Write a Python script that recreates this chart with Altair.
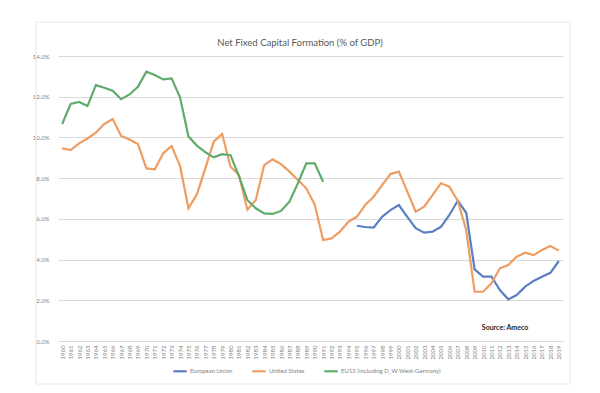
import altair as alt
import pandas as pd

years = list(range(1960, 2020))
us = [9.46, 9.38, 9.71, 9.95, 10.23, 10.66, 10.9, 10.07, 9.9, 9.68,
      8.48, 8.43, 9.22, 9.58, 8.6, 6.52, 7.2, 8.48, 9.79, 10.17,
      8.56, 8.15, 6.45, 6.93, 8.64, 8.92, 8.69, 8.32, 7.91, 7.5,
      6.7, 4.96, 5.04, 5.37, 5.86, 6.1, 6.68, 7.09, 7.66, 8.2,
      8.32, 7.34, 6.35, 6.6, 7.17, 7.75, 7.58, 6.88, 5.45, 2.42,
      2.42, 2.83, 3.57, 3.73, 4.14, 4.34, 4.22, 4.47, 4.67, 4.44]
eu15_years = list(range(1960, 1992))
eu15 = [10.66, 11.64, 11.74, 11.54, 12.57, 12.44, 12.29, 11.88, 12.11, 12.49,
        13.23, 13.07, 12.85, 12.9, 11.97, 10.05, 9.6, 9.28, 9.02, 9.18,
        9.13, 8.1, 6.93, 6.52, 6.27, 6.24, 6.39, 6.84, 7.75, 8.73,
        8.73, 7.82]
eu_years = list(range(1995, 2020))
eu = [5.66, 5.6, 5.57, 6.1, 6.43, 6.68, 6.1, 5.54, 5.32, 5.37,
      5.61, 6.19, 6.89, 6.3, 3.52, 3.16, 3.16, 2.5, 2.05, 2.26,
      2.67, 2.95, 3.16, 3.35, 3.93]

series_names = ["European Union", "United States", "EU15 (including D_W West-Germany)"]
series_colors = ["#5B7FC2", "#EE9D62", "#5FAB6A"]
y_ticks = [0, 2, 4, 6, 8, 10, 12, 14]
title_text = ["Net Fixed Capital Formation (% of GDP)"]
source_text = ["Source: Ameco"]

rows = []
for yr, v in zip(eu_years, eu):
    rows.append({"year": yr, "value": v, "series": series_names[0]})
for yr, v in zip(years, us):
    rows.append({"year": yr, "value": v, "series": series_names[1]})
for yr, v in zip(eu15_years, eu15):
    rows.append({"year": yr, "value": v, "series": series_names[2]})
df = pd.DataFrame(rows)

FONT = "Lato"
GREY = "#7f7f7f"

lines = alt.Chart(df).mark_line(strokeWidth=2.2).encode(
    x=alt.X("year:O",
            scale=alt.Scale(type="point", padding=0.5, domain=years),
            axis=alt.Axis(title=None, labelAngle=-90, labelFontSize=6, labelColor=GREY,
                          labelFont=FONT, ticks=False, domainColor="#d9d9d9",
                          grid=False, labelPadding=4, labelOverlap=False,
                          labelBaseline="middle", labelAlign="right")),
    y=alt.Y("value:Q",
            scale=alt.Scale(domain=[0, 14]),
            axis=alt.Axis(title=None, values=y_ticks,
                          labelExpr="format(datum.value, '.1f') + '%'",
                          grid=True, gridColor="#d9d9d9", domain=False, ticks=False,
                          labelFontSize=6, labelColor=GREY, labelFont=FONT, labelPadding=9)),
    color=alt.Color("series:N",
                    scale=alt.Scale(domain=series_names, range=series_colors),
                    legend=alt.Legend(title=None, orient="none", legendX=114, legendY=307,
                                      direction="horizontal", symbolType="stroke",
                                      symbolStrokeWidth=2.2, symbolSize=180,
                                      labelFontSize=6, labelColor=GREY, labelFont=FONT,
                                      columnPadding=14, labelOffset=2)),
)

source = alt.Chart(pd.DataFrame({"t": source_text})).mark_text(
    fontWeight="bold", fontSize=7, color="#262626", align="center", font=FONT
).encode(x=alt.value(447), y=alt.value(272), text="t:N")

title = alt.Chart(pd.DataFrame({"t": title_text})).mark_text(
    fontSize=9.5, color="#595959", align="center", baseline="middle", font=FONT
).encode(x=alt.value(242), y=alt.value(-13), text="t:N")

frame = alt.Chart(pd.DataFrame({"a": [0]})).mark_rect(
    fill=None, stroke="#e6e6e6", strokeWidth=1
).encode(x=alt.value(-22), x2=alt.value(512), y=alt.value(-34), y2=alt.value(328))

chart = alt.layer(frame, lines, source, title).properties(
    width=505, height=285,
    autosize=alt.AutoSizeParams(type="none"),
    padding={"left": 50, "top": 48, "right": 29, "bottom": 44},
).configure_view(stroke=None)

chart.save("out.html", embed_options={"renderer": "svg", "actions": False})
